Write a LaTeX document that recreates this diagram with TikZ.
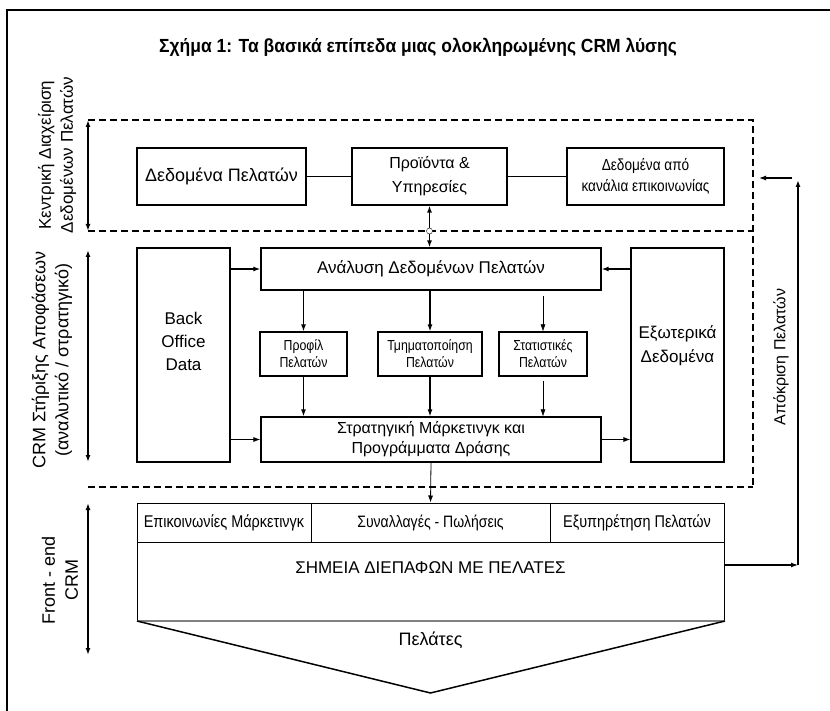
\documentclass[tikz,border=0pt]{standalone}
\usepackage{fontspec}
\setmainfont{Liberation Sans}
\newfontfamily\narrowfont{Liberation Sans}[FakeStretch=0.85]
\newfontfamily\titlefont{Liberation Sans}[FakeStretch=0.92]
\usetikzlibrary{positioning,calc,arrows.meta}

\begin{document}
\begin{tikzpicture}[x=1pt, y=-1pt, >={Latex[length=7pt,width=5pt]},
  box/.style={draw, line width=1.2pt, align=center, inner sep=1pt, font=\fontsize{17}{22}\selectfont},
  small/.style={box, font=\narrowfont\fontsize{14.5}{17}\selectfont},
  cell/.style={draw, line width=1pt, minimum height=39pt, inner sep=1pt, font=\narrowfont\fontsize{17}{20}\selectfont},
  side/.style={rotate=90, align=center, font=\fontsize{18}{23}\selectfont},
  layer/.style={line width=1.3pt, dash pattern=on 7pt off 4pt},
  flow/.style={->, line width=1.2pt},
  thinflow/.style={->, line width=0.6pt},
  span/.style={<->, line width=1.8pt}]

\useasboundingbox (0,0) rectangle (830,711);
\fill[white] (0,0) rectangle (830,711);
\draw[line width=1.5pt] (7,711) -- (7,10) -- (830,10);

\node[font=\titlefont\bfseries\fontsize{19}{24}\selectfont] (title) at (418,47) {Σχήμα 1: Τα βασικά επίπεδα μιας ολοκληρωμένης CRM λύσης};

% layers
\draw[layer] (88,120) -- (753,120) -- (753,487);
\draw[layer] (88,231) -- (753,231);
\draw[layer] (88,487) -- (753,487);
\draw[span] (88,120) -- (88,231);
\draw[span] (88,250) -- (88,462);
\draw[span] (88,503) -- (88,655);
\node[side, font=\fontsize{17}{22}\selectfont] (lay1) at (57,155) {Κεντρική Διαχείριση\\Δεδομένων Πελατών};
\node[side] (lay2) at (52,360) {CRM Στήριξης Αποφάσεων\\(αναλυτικό / στρατηγικό)};
\node[side, font=\fontsize{18}{23}\selectfont] (lay3) at (60,580) {Front - end\\CRM};

% top layer
\node[box, minimum width=169pt, minimum height=57pt, font=\fontsize{18}{22}\selectfont] (dp) at (221.5,176.5) {Δεδομένα Πελατών};
\node[box, minimum width=155pt, minimum height=57pt, font=\fontsize{16}{24}\selectfont] (pi) at (429.5,176.5) {Προϊόντα \&\\Υπηρεσίες};
\node[box, minimum width=157pt, minimum height=57pt, font=\narrowfont\fontsize{16}{21}\selectfont] (dk) at (645.5,176.5) {Δεδομένα από\\κανάλια επικοινωνίας};
\draw[line width=0.8pt] (dp) -- (pi);
\draw[line width=0.8pt] (pi) -- (dk);

% decision layer
\node[box, minimum width=93pt, minimum height=214pt, font=\fontsize{17}{23}\selectfont, text depth=28pt] (bo) at (183.5,355) {Back\\Office\\Data};
\node[box, minimum width=93pt, minimum height=214pt, font=\fontsize{17}{24}\selectfont, text depth=22pt] (ex) at (677.5,355) {Εξωτερικά\\Δεδομένα};
\node[box, minimum width=340pt, minimum height=42pt] (an) at (431,269) {Ανάλυση Δεδομένων Πελατών};
\node[small, minimum width=87pt, minimum height=44pt] (pr) at (303.5,354) {Προφίλ\\Πελατών};
\node[small, minimum width=104pt, minimum height=44pt] (tm) at (430,354) {Τμηματοποίηση\\Πελατών};
\node[small, minimum width=88pt, minimum height=44pt] (st) at (543,354) {Στατιστικές\\Πελατών};
\node[box, minimum width=340pt, minimum height=45pt, font=\fontsize{16}{20}\selectfont] (sm) at (431,439.5) {Στρατηγική Μάρκετινγκ και\\Προγράμματα Δράσης};

\draw[<->, line width=1.5pt] (pi.south) -- (pi.south |- an.north);
\node[circle, draw, fill=white, inner sep=0pt, minimum size=6pt] (cross) at (pi.south |- 0,231) {};
\draw[flow] (an.south -| pr) -- (pr.north);
\draw[flow] (an.south -| tm) -- (tm.north);
\draw[thinflow, shorten <=5pt] (an.south -| st) -- (st.north);
\draw[flow] (pr.south) -- (sm.north -| pr);
\draw[flow] (tm.south) -- (sm.north -| tm);
\draw[thinflow, shorten <=4pt] (st.south) -- (sm.north -| st);
\draw[flow, line width=2pt] (bo.east |- an.west) -- (an.west);
\draw[flow, line width=0.8pt] (bo.east |- sm.west) -- (sm.west);
\draw[flow, line width=2pt] (ex.west |- an.east) -- (an.east);
\draw[flow, line width=0.8pt] (sm.east) -- (ex.west |- sm.east);

% front end
\node[cell, minimum width=174pt] (c1) at (224,522.5) {Επικοινωνίες Μάρκετινγκ};
\node[cell, minimum width=239pt, font=\narrowfont\fontsize{16.5}{19}\selectfont] (c2) at (430.5,522.5) {Συναλλαγές - Πωλήσεις};
\node[cell, minimum width=174pt] (c3) at (637,522.5) {Εξυπηρέτηση Πελατών};
\draw[flow, line width=0.8pt] (sm.south) -- (c2.north);
\node[draw, line width=1pt, minimum width=587pt, minimum height=78pt, anchor=north west] (tp) at (137,542) {};
\node[font=\fontsize{17}{20}\selectfont] (tptext) at (430.5,568) {ΣΗΜΕΙΑ ΔΙΕΠΑΦΩΝ ΜΕ ΠΕΛΑΤΕΣ};
\coordinate (tip) at (430.5,693);
\draw[gray, line width=2.5pt] (tp.south west) -- (tp.south east);
\draw[line width=1.5pt] (tp.south west) -- (tip) -- (tp.south east);
\node[font=\fontsize{18}{22}\selectfont] (cust) at (430.5,640) {Πελάτες};

% feedback
\coordinate (fbc) at (798,565);
\coordinate (fbt) at (798,180);
\coordinate (fbs) at (792,178);
\coordinate (fbe) at (759,178);
\draw[flow] (tp.east |- fbc) -- (fbc);
\draw[flow, line width=1.8pt] (fbc) -- (fbt);
\draw[flow] (fbs) -- (fbe);
\node[side, font=\fontsize{16}{20}\selectfont] (resp) at (781,357) {Απόκριση Πελατών};
\end{tikzpicture}
\end{document}
